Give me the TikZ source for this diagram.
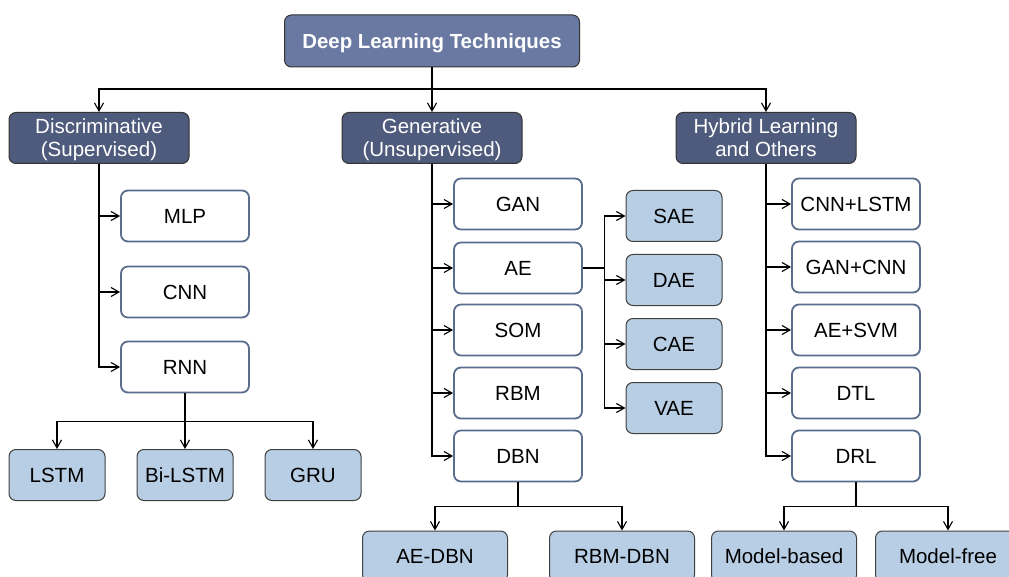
\documentclass[tikz,border=0pt]{standalone}
\usepackage{fontspec}
\setmainfont{Liberation Sans}
\usetikzlibrary{arrows.meta}
\definecolor{topc}{HTML}{6979A2}
\definecolor{catc}{HTML}{4F5B7C}
\definecolor{lightc}{HTML}{B8CEE5}
\definecolor{wborder}{HTML}{5A6D8C}
\definecolor{lborder}{HTML}{404040}
\newcommand{\tlx}{\rule{0pt}{18.5pt}}
\newcommand{\blx}{\rule[-4.5pt]{0pt}{1pt}}
\tikzset{
  base/.style={rounded corners=7pt, inner sep=0pt, align=center, font=\fontsize{20.5}{23}\selectfont},
  topbox/.style={base, fill=topc, draw=black!80, line width=1pt, minimum width=295pt, minimum height=52pt, text=white, text height=14.8pt, text depth=0pt, font=\fontsize{20.4}{23}\selectfont\bfseries},
  catbox/.style={base, fill=catc, draw=black!80, line width=1pt, minimum width=180pt, minimum height=51pt, text=white},
  wbox/.style={base, fill=white, draw=wborder, line width=1.8pt, minimum width=128pt, minimum height=51pt, text height=14.8pt, text depth=0pt},
  lbox/.style={base, fill=lightc, draw=lborder, line width=1pt, minimum width=96pt, minimum height=51pt, text height=14.8pt, text depth=0pt},
  bbox/.style={lbox, minimum width=145pt},
  arr/.style={draw=black, line width=1.1pt, -{Straight Barb[length=8pt,width=9pt]}},
}
\begin{document}
\begin{tikzpicture}[x=1pt,y=-1pt]
\useasboundingbox (0,0) rectangle (1009,577);
\clip (0,0) rectangle (1009,577);
% top
\node[topbox] (top) at (432,41) {Deep Learning Techniques};
% categories
\node[catbox] (disc) at (99,138) {\tlx Discriminative\\(Supervised)\blx};
\node[catbox] (gen) at (432,138) {\tlx Generative\\(Unsupervised)\blx};
\node[catbox] (hyb) at (766,138) {\tlx Hybrid Learning\\and Others\blx};
% discriminative
\node[wbox] (mlp) at (185,216) {MLP};
\node[wbox] (cnn) at (185,292) {CNN};
\node[wbox] (rnn) at (185,367) {RNN};
\node[lbox] (lstm) at (57,475) {LSTM};
\node[lbox] (bilstm) at (185,475) {Bi-LSTM};
\node[lbox] (gru) at (313,475) {GRU};
% generative
\node[wbox] (gan) at (518,204) {GAN};
\node[wbox] (ae) at (518,268) {AE};
\node[wbox] (som) at (518,330) {SOM};
\node[wbox] (rbm) at (518,393) {RBM};
\node[wbox] (dbn) at (518,456) {DBN};
\node[lbox] (sae) at (674,216) {SAE};
\node[lbox] (dae) at (674,280) {DAE};
\node[lbox] (cae) at (674,344) {CAE};
\node[lbox] (vae) at (674,408) {VAE};
\node[bbox] (aedbn) at (435,556.5) {AE-DBN};
\node[bbox] (rbmdbn) at (622,556.5) {RBM-DBN};
% hybrid
\node[wbox] (cnnlstm) at (856,204) {CNN+LSTM};
\node[wbox] (gancnn) at (856,267) {GAN+CNN};
\node[wbox] (aesvm) at (856,330) {AE+SVM};
\node[wbox] (dtl) at (856,393) {DTL};
\node[wbox] (drl) at (856,456) {DRL};
\node[bbox] (mbased) at (784,556.5) {Model-based};
\node[bbox] (mfree) at (948,556.5) {Model-free};
% connectors from top
\draw[arr] (top.south) -- (top.south |- 0,89) -| (disc.north);
\draw[arr] (top.south) -- (gen.north);
\draw[arr] (top.south) -- (top.south |- 0,89) -| (hyb.north);
% discriminative
\foreach \n in {mlp,cnn,rnn} \draw[arr] (disc.south) |- (\n.west);
\foreach \n in {lstm,bilstm,gru} \draw[arr] (rnn.south) -- ++(0,28) -| (\n.north);
% generative
\foreach \n in {gan,ae,som,rbm,dbn} \draw[arr] (gen.south) |- (\n.west);
\foreach \n in {sae,dae,cae,vae} \draw[arr] (ae.east) -- ++(22,0) |- (\n.west);
\foreach \n in {aedbn,rbmdbn} \draw[arr] (dbn.south) -- ++(0,24) -| (\n.north);
% hybrid
\foreach \n in {cnnlstm,gancnn,aesvm,dtl,drl} \draw[arr] (hyb.south) |- (\n.west);
\foreach \n in {mbased,mfree} \draw[arr] (drl.south) -- ++(0,24) -| (\n.north);
\end{tikzpicture}
\end{document}
